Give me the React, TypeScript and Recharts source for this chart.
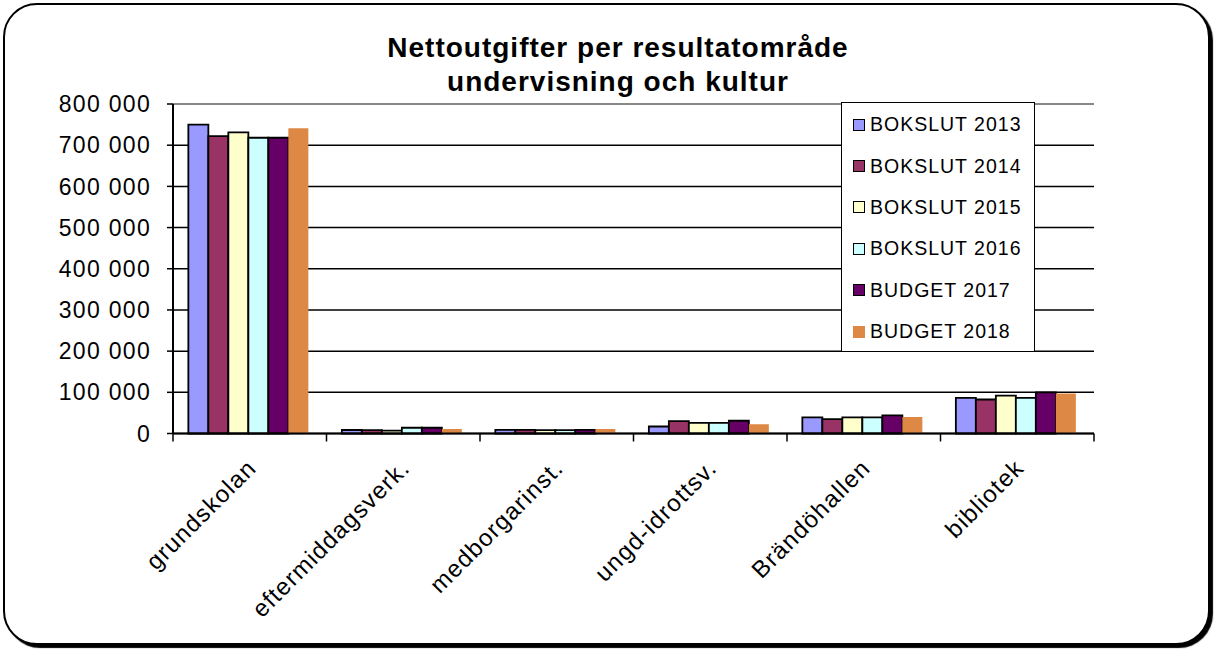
import { Bar, BarChart, CartesianGrid, Legend, ReferenceLine, XAxis, YAxis } from 'recharts';

const categories = ['grundskolan', 'eftermiddagsverk.', 'medborgarinst.', 'ungd-idrottsv.', 'Brändöhallen', 'bibliotek'];

const bokslut2013 = [750000, 8500, 9000, 17000, 39000, 86500];
const bokslut2014 = [722000, 8000, 9000, 30000, 35000, 82500];
const bokslut2015 = [731000, 7000, 8000, 26000, 39000, 92000];
const bokslut2016 = [718000, 14000, 8000, 26000, 39000, 86500];
const budget2017 = [718000, 14000, 9000, 31000, 44000, 100000];
const budget2018 = [741000, 11000, 11000, 22500, 40000, 97000];

const yTicks = [0, 100000, 200000, 300000, 400000, 500000, 600000, 700000, 800000];

const series = [
  { key: 'b2013', name: 'BOKSLUT 2013', values: bokslut2013, color: '#9999ff', border: '#000' },
  { key: 'b2014', name: 'BOKSLUT 2014', values: bokslut2014, color: '#993366', border: '#000' },
  { key: 'b2015', name: 'BOKSLUT 2015', values: bokslut2015, color: '#ffffcc', border: '#000' },
  { key: 'b2016', name: 'BOKSLUT 2016', values: bokslut2016, color: '#ccffff', border: '#000' },
  { key: 'bu2017', name: 'BUDGET 2017', values: budget2017, color: '#660066', border: '#000' },
  { key: 'bu2018', name: 'BUDGET 2018', values: budget2018, color: '#dd8844', border: 'none' },
];

const data = categories.map((cat, i) => {
  const row: Record<string, string | number> = { cat };
  series.forEach((s) => {
    row[s.key] = s.values[i];
  });
  return row;
});

const FONT = "Arial, 'Liberation Sans', sans-serif";
const PLOT_LEFT = 173;
const PLOT_RIGHT = 1094;
const BAND = (PLOT_RIGHT - PLOT_LEFT) / categories.length;

const fmt = (v: number) => String(v).replace(/\B(?=(\d{3})+(?!\d))/g, ' ');

function XTick(props: any) {
  const { x, y, payload, index } = props;
  const ax = x + 8;
  const ay = y + 36;
  return (
    <g>
      <line x1={x - BAND / 2} y1={y} x2={x - BAND / 2} y2={y + 8} stroke="#000" strokeWidth={1.5} />
      {index === categories.length - 1 && (
        <line x1={x + BAND / 2} y1={y} x2={x + BAND / 2} y2={y + 8} stroke="#000" strokeWidth={1.5} />
      )}
      <text
        x={ax}
        y={ay}
        textAnchor="end"
        transform={`rotate(-45 ${ax} ${ay})`}
        fontFamily={FONT}
        fontSize={24}
        letterSpacing={1.2}
        fill="#000"
      >
        {payload.value}
      </text>
    </g>
  );
}

function LegendBox(props: any) {
  const items = props.payload || [];
  return (
    <div
      style={{
        width: 194,
        height: 250,
        boxSizing: 'border-box',
        border: '1.5px solid #000',
        background: '#fff',
        paddingTop: 1,
      }}
    >
      {items.map((it: any, i: number) => {
        const s = series[i];
        return (
          <div key={it.value} style={{ display: 'flex', alignItems: 'center', height: 41.4, paddingLeft: 11 }}>
            <span
              style={{
                display: 'inline-block',
                width: 12,
                height: 12,
                boxSizing: 'border-box',
                background: s.color,
                border: s.border === 'none' ? 'none' : '1.5px solid #000',
                marginRight: 5,
              }}
            />
            <span
              style={{ fontFamily: FONT, fontSize: 19.5, letterSpacing: 1, color: '#000', whiteSpace: 'nowrap' }}
            >
              {it.value}
            </span>
          </div>
        );
      })}
    </div>
  );
}

export default function App() {
  return (
    <div style={{ position: 'absolute', left: 0, top: 0, width: 1218, height: 653, background: '#fff' }}>
      <div
        style={{
          position: 'absolute',
          left: 3,
          top: 3,
          width: 1207,
          height: 642,
          boxSizing: 'border-box',
          border: '2px solid #000',
          borderRadius: 34,
          boxShadow: '3px 3px 1px #000',
          background: '#fff',
        }}
      />
      <div
        style={{
          position: 'absolute',
          left: 0,
          top: 31,
          width: 1236,
          textAlign: 'center',
          fontFamily: FONT,
          fontWeight: 'bold',
          fontSize: 28,
          letterSpacing: 1,
          lineHeight: '34px',
          color: '#000',
          zIndex: 2,
        }}
      >
        Nettoutgifter per resultatområde
        <br />
        undervisning och kultur
      </div>
      <div style={{ position: 'absolute', left: 0, top: 0 }}>
        <BarChart
          width={1218}
          height={653}
          data={data}
          margin={{ top: 104, right: 124, left: 0, bottom: 0 }}
          barCategoryGap="10%"
          barGap={0}
        >
          <CartesianGrid vertical={false} stroke="#000" strokeWidth={1.5} />
          <ReferenceLine y={800000} stroke="#888" strokeWidth={2} />
          <XAxis
            dataKey="cat"
            height={219.5}
            axisLine={{ stroke: '#000', strokeWidth: 2 }}
            tickLine={false}
            tickSize={0}
            tickMargin={0}
            interval={0}
            tick={<XTick />}
          />
          <YAxis
            width={173}
            domain={[0, 800000]}
            ticks={yTicks}
            tickFormatter={fmt}
            axisLine={{ stroke: '#000', strokeWidth: 2 }}
            tickLine={{ stroke: '#000', strokeWidth: 1.5 }}
            tickSize={6}
            tickMargin={16}
            tick={{ fontFamily: FONT, fontSize: 23, letterSpacing: 1.3, fill: '#000' }}
            interval={0}
          />
          <YAxis
            yAxisId="r"
            orientation="right"
            width={0}
            domain={[0, 800000]}
            tick={false}
            tickLine={false}
            axisLine={{ stroke: '#888', strokeWidth: 2 }}
          />
          <Legend
            layout="vertical"
            align="center"
            verticalAlign="middle"
            content={<LegendBox />}
            wrapperStyle={{ position: 'absolute', left: 841, top: 102, width: 194, height: 250 }}
          />
          {series.map((s) => (
            <Bar
              key={s.key}
              dataKey={s.key}
              name={s.name}
              fill={s.color}
              stroke={s.border}
              strokeWidth={1.8}
              isAnimationActive={false}
            />
          ))}
        </BarChart>
      </div>
    </div>
  );
}
